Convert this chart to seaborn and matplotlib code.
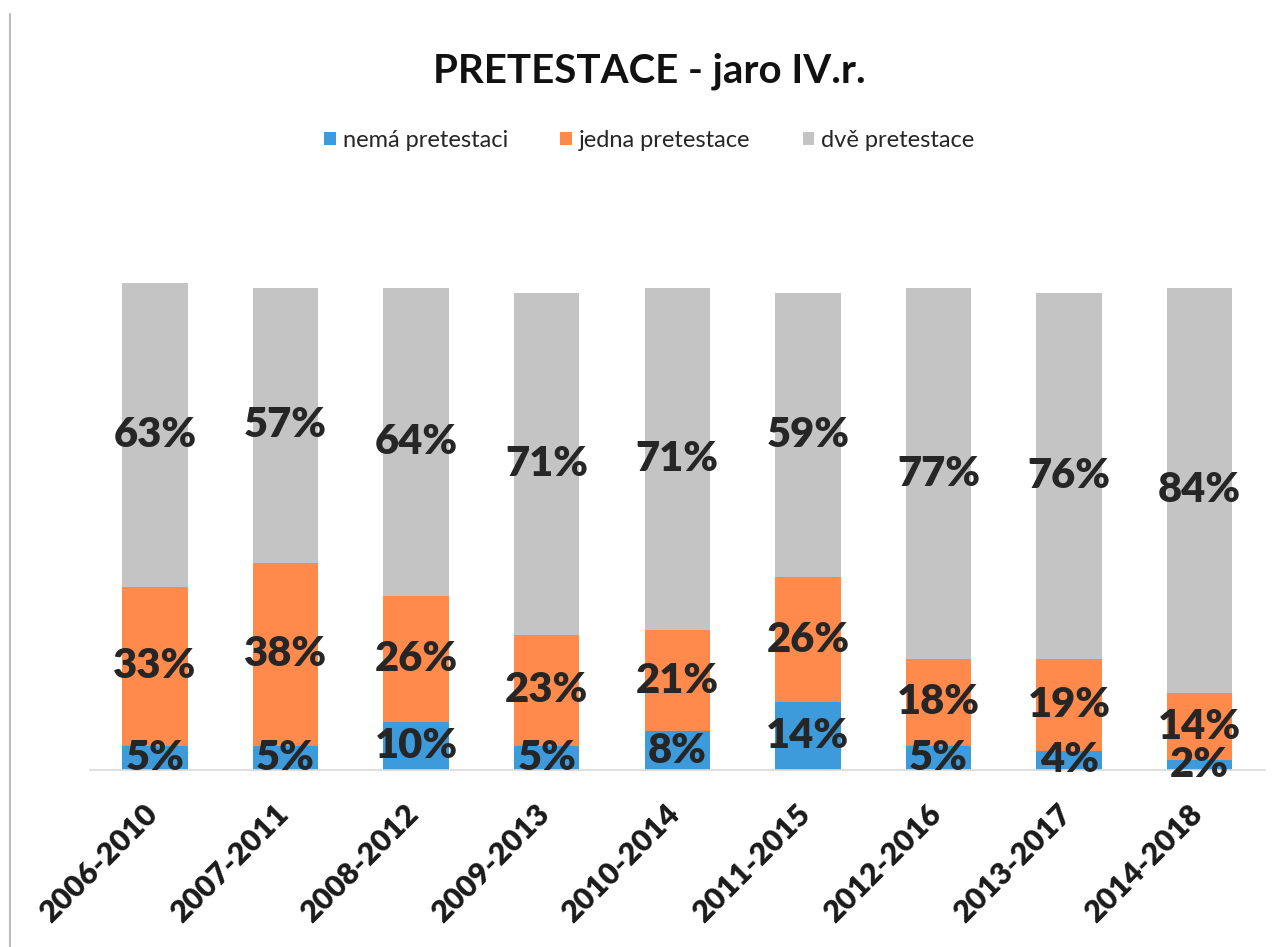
import seaborn as sns
import pandas as pd
import matplotlib.pyplot as plt
import matplotlib.transforms as mtransforms
from matplotlib.patches import Patch
from matplotlib.lines import Line2D

periods = ["2006-2010", "2007-2011", "2008-2012", "2009-2013", "2010-2014",
           "2011-2015", "2012-2016", "2013-2017", "2014-2018"]
nema = [5, 5, 10, 5, 8, 14, 5, 4, 2]
jedna = [33, 38, 26, 23, 21, 26, 18, 19, 14]
dve = [63, 57, 64, 71, 71, 59, 77, 76, 84]

series_names = ["nemá pretestaci", "jedna pretestace", "dvě pretestace"]
colors = ["#3E9BDB", "#FF8A4C", "#C4C4C4"]

df = pd.DataFrame({"period": periods, "nema": nema, "jedna": jedna, "dve": dve})
df["c1"] = df["nema"]
df["c2"] = df["nema"] + df["jedna"]
df["c3"] = df["c2"] + df["dve"]

sns.set_theme(style="white")
plt.rcParams["font.family"] = ["Lato", "DejaVu Sans"]

fig = plt.figure(figsize=(12.81, 9.47), dpi=100)
ax = fig.add_axes([0.070, 0.187, 0.9175, 0.608])

# stacked bars drawn as cumulative totals, back to front
for col, color in zip(["c3", "c2", "c1"], colors[::-1]):
    sns.barplot(data=df, x="period", y=col, color=color, width=0.5,
                saturation=1, linewidth=0, edgecolor="none", ax=ax, zorder=2)

ax.set_xlim(-0.5, len(periods) - 0.5)
ax.set_ylim(0, 119.5)
ax.set_xlabel("")
ax.set_ylabel("")
ax.set_yticks([])
for side in ["left", "right", "top"]:
    ax.spines[side].set_visible(False)
ax.spines["bottom"].set_color("#D9D9D9")
ax.spines["bottom"].set_linewidth(1.2)

# value labels centred in each segment
txt_color = "#262626"
for i in range(len(periods)):
    segs = [(0, df["c1"][i], nema[i]), (df["c1"][i], df["c2"][i], jedna[i]),
            (df["c2"][i], df["c3"][i], dve[i])]
    for lo, hi, v in segs:
        ax.text(i, (lo + hi) / 2, f"{v}%", ha="center", va="center",
                fontsize=30, fontweight="heavy", color=txt_color, zorder=5)

ax.set_xticks(range(len(periods)))
ax.set_xticklabels(periods, rotation=45, ha="right", rotation_mode="anchor",
                   fontsize=22, fontweight="heavy", color="#1A1A1A")
ax.tick_params(axis="x", length=0, pad=18)
shift = mtransforms.ScaledTranslation(-0.12, -0.05, fig.dpi_scale_trans)
for lab in ax.get_xticklabels():
    lab.set_transform(lab.get_transform() + shift)

fig.text(0.507, 0.925, "PRETESTACE - jaro IV.r.", ha="center", va="center",
         fontsize=29, fontweight="bold", color="#111111")

handles = [Patch(facecolor=c, edgecolor="none") for c in colors]
fig.legend(handles, series_names, loc="center", bbox_to_anchor=(0.507, 0.852),
           ncol=3, frameon=False, fontsize=17, handlelength=0.5,
           handleheight=0.5, handletextpad=0.3, columnspacing=2.2,
           labelcolor="#262626")

# scanned page border on the left
fig.add_artist(Line2D([0.008, 0.008], [0.0, 0.985], color="#BDBDBD",
                      linewidth=1.5, transform=fig.transFigure))

fig.savefig("out.png", dpi=100)
